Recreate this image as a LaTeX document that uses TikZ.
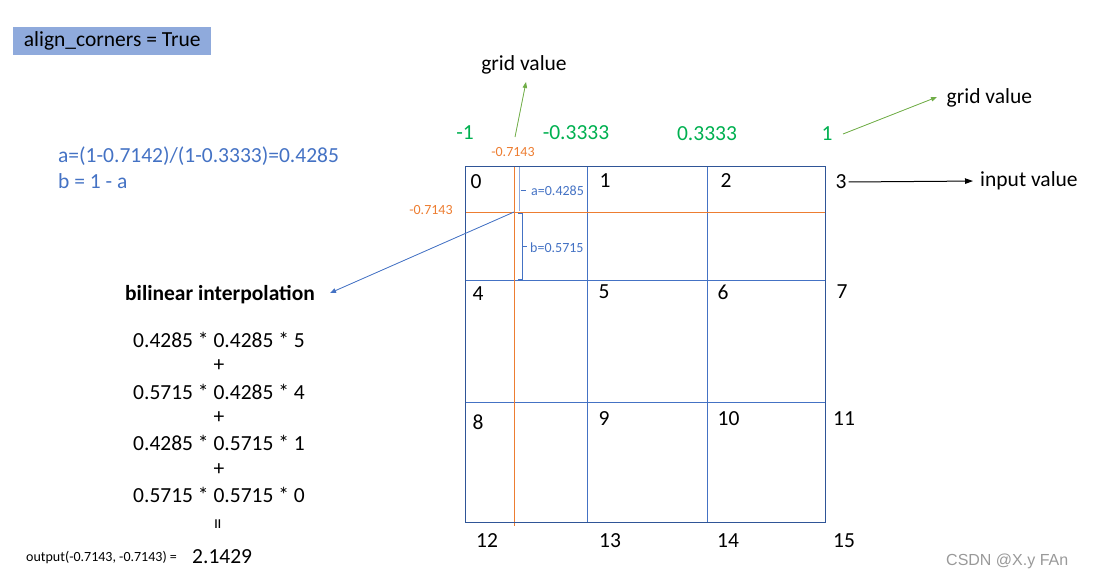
\documentclass[tikz,border=0pt]{standalone}
\usepackage{fontspec}
\setmainfont{Carlito}
\newfontfamily\wmfont{Liberation Sans}
\usetikzlibrary{arrows.meta}
\definecolor{gnum}{HTML}{00B050}
\definecolor{orng}{HTML}{ED7D31}
\definecolor{bltxt}{HTML}{4472C4}
\definecolor{boxfill}{HTML}{8FAADC}
\definecolor{navy}{HTML}{2F5597}
\definecolor{garr}{HTML}{70AD47}
\definecolor{lightbr}{HTML}{8FAADC}
\begin{document}
\begin{tikzpicture}[x=1pt,y=-1pt,
  bigtxt/.style={font=\fontsize{21.5}{24}\selectfont, inner sep=1pt},
  boldtxt/.style={font=\fontsize{21.5}{24}\selectfont\bfseries, inner sep=1pt},
  greentxt/.style={bigtxt, text=gnum},
  bluetxt/.style={bigtxt, text=bltxt},
  orgtxt/.style={font=\fontsize{14}{16}\selectfont, text=orng, inner sep=1pt},
  brtxt/.style={font=\fontsize{14}{16}\selectfont, text=bltxt, inner sep=1pt},
  smalltxt/.style={font=\fontsize{14}{16}\selectfont, inner sep=1pt},
  cellnum/.style={bigtxt},
  gridline/.style={draw=bltxt, line width=0.9pt},
  outerline/.style={draw=navy, line width=1pt},
  orgline/.style={draw=orng, line width=0.9pt},
  tip/.style={-{Triangle[length=6pt,width=4.5pt]}},
  garrow/.style={tip, draw=garr, fill=garr, line width=0.8pt},
  barrow/.style={tip, draw=bltxt, fill=bltxt, line width=0.8pt},
  karrow/.style={-{Triangle[length=8pt,width=5.5pt]}, draw=black, line width=1pt},
  brline/.style={draw=bltxt, line width=0.7pt},
  ]
\useasboundingbox (0,0) rectangle (1094,584);

% title box
\node[bigtxt, fill=boxfill, minimum width=198pt, minimum height=28pt, anchor=north west, inner sep=0pt] (ac) at (13,27) {align\_corners = True};

% grid value labels
\node[bigtxt] (gv1) at (524,65) {grid value};
\node[bigtxt, anchor=west] (gv2) at (945.5,98) {grid value};

% green grid values
\node[greentxt] (g1) at (465,133) {-1};
\node[greentxt] (g2) at (576,133) {-0.3333};
\node[greentxt] (g3) at (707,134) {0.3333};
\node[greentxt] (g4) at (827,134) {1};

% orange sample coordinates
\node[orgtxt] (ot) at (513,152) {-0.7143};
\node[orgtxt] (ol) at (431,210) {-0.7143};

% blue formula
\node[bluetxt, anchor=west] (fa) at (57,156) {a=(1-0.7142)/(1-0.3333)=0.4285};
\node[bluetxt, anchor=west] (fb) at (57,181) {b = 1 - a};

% grid
\draw[gridline] (587,166) -- (587,522);
\draw[gridline] (707,166) -- (707,522);
\draw[gridline] (465,280) -- (825,280);
\draw[gridline] (465,402) -- (825,402);
\draw[orgline] (465,212) -- (825,212);
\draw[orgline] (514,166) -- (514,526);
\draw[outerline] (465,166) rectangle (825,522);

% brackets
\draw[draw=lightbr, line width=1.8pt] (519.5,167) -- (519.5,211);
\draw[brline] (520.5,190) -- (525.5,190);
\draw[brline] (518,213.5) -- (522,213.5) -- (522,279.5) -- (518,279.5);
\draw[brline] (522,246) -- (527,246);
\node[brtxt, anchor=west] (al) at (530,191) {a=0.4285};
\node[brtxt, anchor=west] (bl) at (529,248) {b=0.5715};

% cell numbers
\node[cellnum] (c0) at (476,182) {0};
\node[cellnum] (c1) at (605,181) {1};
\node[cellnum] (c2) at (726,181) {2};
\node[cellnum] (c3) at (841,182) {3};
\node[cellnum] (c4) at (478,294) {4};
\node[cellnum] (c5) at (604,292) {5};
\node[cellnum] (c6) at (723,292) {6};
\node[cellnum] (c7) at (842,292) {7};
\node[cellnum] (c8) at (478,422) {8};
\node[cellnum] (c9) at (604,419) {9};
\node[cellnum] (c10) at (728.5,419) {10};
\node[cellnum] (c11) at (844,419) {11};
\node[cellnum] (c12) at (487,541) {12};
\node[cellnum] (c13) at (610,541) {13};
\node[cellnum] (c14) at (728,541) {14};
\node[cellnum] (c15) at (844,541) {15};

% input value
\node[bigtxt, anchor=west] (inp) at (979,181) {input value};

% bilinear interpolation
\node[boldtxt] (bil) at (220,295) {bilinear interpolation};
\node[bigtxt] (l1) at (219,340) {0.4285 * 0.4285 * 5};
\node[bigtxt] (p1) at (219,366) {+};
\node[bigtxt] (l2) at (219,392) {0.5715 * 0.4285 * 4};
\node[bigtxt] (p2) at (219,418) {+};
\node[bigtxt] (l3) at (219,443) {0.4285 * 0.5715 * 1};
\node[bigtxt] (p3) at (219,470) {+};
\node[bigtxt] (l4) at (219,495) {0.5715 * 0.5715 * 0};
\node[bigtxt, rotate=90] (eq) at (220,524) {=};
\node[smalltxt, anchor=west] (out) at (25,557) {output(-0.7143, -0.7143) =};
\node[bigtxt, anchor=west] (res) at (191,557) {2.1429};

% watermark
\node[font=\wmfont\fontsize{16}{18}\selectfont, text=black!40, anchor=west, inner sep=1pt] (wm) at (945,561) {CSDN @X.y FAn};

% connectors
\coordinate (t1) at (515,137);
\coordinate (h1) at (526,82);
\draw[garrow] (t1) -- (h1);
\coordinate (t2) at (843,134);
\coordinate (h2) at (937,97);
\draw[garrow] (t2) -- (h2);
\draw[karrow, shorten <=1pt, shorten >=6pt] (c3.east) -- (inp.west);
\coordinate (p) at (514,212);
\coordinate (bt) at (330,293);
\draw[barrow] (p) -- (bt);
\end{tikzpicture}
\end{document}
